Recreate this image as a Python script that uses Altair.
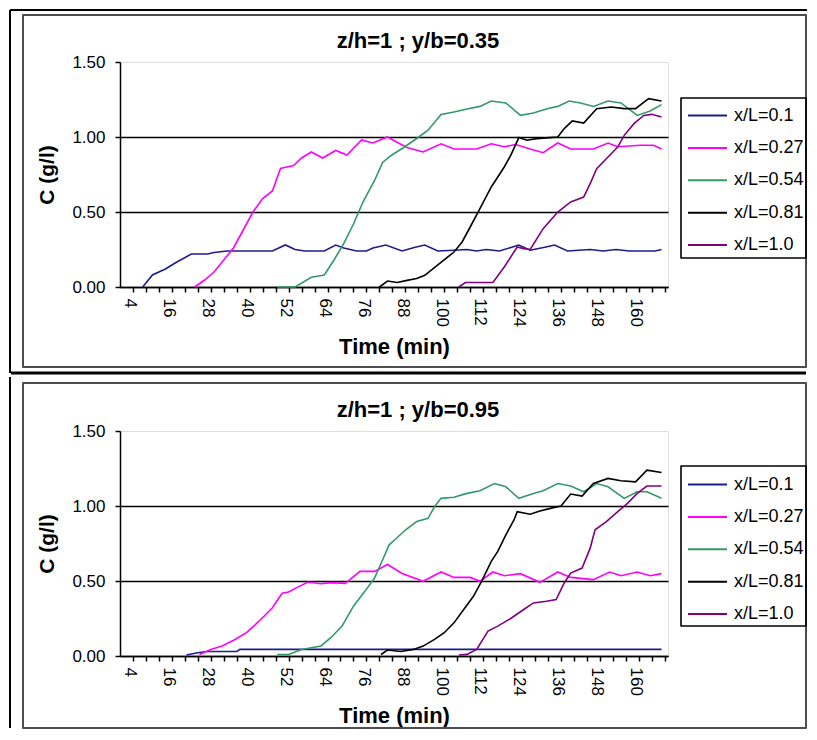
import altair as alt
import pandas as pd

FONT = "Liberation Sans"

series_names = ["x/L=0.1", "x/L=0.27", "x/L=0.54", "x/L=0.81", "x/L=1.0"]
series_colors = ["#1c1c8c", "#ff00ff", "#339966", "#000000", "#800080"]
panel_titles = ["z/h=1 ; y/b=0.35", "z/h=1 ; y/b=0.95"]
y_title = "C (g/l)"
x_title = "Time (min)"
y_ticks = [0, 0.5, 1.0, 1.5]
x_label_values = list(range(4, 161, 12))
x_tick_values = list(range(5, 170, 4))

# ---------------- top panel (y/b = 0.35) ----------------
top_t_01 = [8, 11, 15, 18, 23, 28, 30, 34, 48, 52, 55, 58, 64, 67.5, 70, 74, 77, 79, 83, 88, 92, 95, 99, 104,
            108, 111, 114, 118, 124, 127.5, 132, 135, 139, 146, 150, 154, 158, 166, 168]
top_c_01 = [0.0, 0.08, 0.12, 0.16, 0.22, 0.22, 0.23, 0.24, 0.24, 0.28, 0.25, 0.24, 0.24, 0.28, 0.26, 0.24, 0.24,
            0.26, 0.28, 0.24, 0.265, 0.28, 0.24, 0.245, 0.25, 0.24, 0.25, 0.24, 0.28, 0.245, 0.265, 0.28, 0.24,
            0.25, 0.24, 0.25, 0.24, 0.24, 0.25]
top_t_027 = [24, 27, 30, 33, 36, 39, 42, 45, 48, 50.5, 52.5, 54.5, 57, 60, 63.5, 67.5, 71, 75.5, 79, 83.5, 86,
             89.5, 94.5, 100, 104, 111, 115.5, 119.5, 123, 127.5, 131.5, 136, 140, 147, 151.5, 154.5, 161.5,
             165.5, 168]
top_c_027 = [0.0, 0.045, 0.10, 0.18, 0.26, 0.38, 0.50, 0.59, 0.64, 0.79, 0.80, 0.81, 0.86, 0.90, 0.86, 0.91,
             0.88, 0.98, 0.96, 1.0, 0.97, 0.93, 0.90, 0.955, 0.92, 0.92, 0.955, 0.935, 0.95, 0.92, 0.895, 0.96,
             0.92, 0.92, 0.96, 0.935, 0.945, 0.945, 0.92]
top_t_054 = [49.5, 55, 60, 64, 67, 70, 73, 76, 79.5, 82, 84.5, 88.5, 92.5, 96, 100, 104, 108, 112, 115.5, 120,
             124.5, 128.5, 133, 136, 139.5, 143, 147, 151.5, 155.5, 160.5, 164.5, 168]
top_c_054 = [0.0, 0.0, 0.065, 0.08, 0.18, 0.29, 0.42, 0.57, 0.71, 0.83, 0.875, 0.93, 0.99, 1.045, 1.15, 1.167,
             1.187, 1.204, 1.24, 1.227, 1.144, 1.16, 1.19, 1.204, 1.24, 1.227, 1.204, 1.24, 1.227, 1.144,
             1.173, 1.216]
top_t_081 = [81, 83.5, 86.5, 89.5, 92.5, 95, 99.5, 104, 106.5, 109, 112, 115.5, 119.5, 121.5, 124, 126.5, 129.5,
             133.5, 136, 138, 140.5, 144, 148, 152.5, 156.5, 160, 164, 168]
top_c_081 = [0.0, 0.04, 0.03, 0.044, 0.056, 0.078, 0.156, 0.233, 0.30, 0.40, 0.522, 0.667, 0.80, 0.878, 0.996,
             0.978, 0.989, 0.996, 1.0, 1.056, 1.107, 1.093, 1.189, 1.20, 1.189, 1.189, 1.256, 1.24]
top_t_10 = [105.5, 107.5, 116, 119.5, 123.5, 125.5, 127.5, 131.5, 136, 140, 144, 146, 148, 151.5, 154.5, 156.5,
            159.5, 162.5, 165, 168]
top_c_10 = [0.0, 0.03, 0.03, 0.133, 0.267, 0.256, 0.25, 0.389, 0.50, 0.567, 0.60, 0.689, 0.789, 0.867, 0.933,
            1.011, 1.089, 1.144, 1.151, 1.133]

# ---------------- bottom panel (y/b = 0.95) ----------------
bot_t_01 = [21.5, 25, 28, 37, 38, 60, 90, 120, 150, 168]
bot_c_01 = [0.007, 0.022, 0.03, 0.03, 0.044, 0.044, 0.044, 0.044, 0.044, 0.044]
bot_t_027 = [25.5, 29, 32.5, 36.5, 40, 42.5, 45.5, 48, 51, 53, 55.5, 59, 63, 66, 70.5, 75, 79.5, 83.5, 88, 94.5,
             100, 104, 109, 112, 116, 119.5, 124.5, 130.5, 136, 140, 147, 152, 155.5, 160.5, 164.5, 168]
bot_c_027 = [0.01, 0.044, 0.067, 0.11, 0.156, 0.204, 0.267, 0.322, 0.418, 0.427, 0.456, 0.493, 0.482, 0.489,
             0.484, 0.564, 0.564, 0.61, 0.55, 0.498, 0.56, 0.524, 0.524, 0.498, 0.56, 0.535, 0.549, 0.491, 0.56,
             0.524, 0.509, 0.56, 0.535, 0.56, 0.535, 0.549]
bot_t_054 = [49.5, 53, 57, 63, 66, 69.5, 73, 76.5, 79.5, 82, 84, 86, 89, 92.5, 96, 98, 100, 104, 108, 112, 116.5,
             120, 124, 128.5, 131.5, 136, 140, 144, 148, 151.5, 156.5, 160.5, 163.5, 168]
bot_c_054 = [0.01, 0.01, 0.044, 0.067, 0.122, 0.20, 0.332, 0.431, 0.52, 0.642, 0.741, 0.78, 0.84, 0.896, 0.918,
             0.996, 1.051, 1.058, 1.084, 1.102, 1.15, 1.128, 1.051, 1.084, 1.102, 1.15, 1.133, 1.095, 1.15,
             1.128, 1.051, 1.095, 1.095, 1.051]
bot_t_081 = [81.5, 83.5, 87.5, 91.5, 94.5, 98, 101, 104, 107, 110, 112.5, 115.5, 117.5, 120, 122.5, 123.5, 127.5,
             130.5, 135, 137, 140, 143.5, 147, 151.5, 155.5, 160, 163.5, 168]
bot_c_081 = [0.01, 0.04, 0.03, 0.044, 0.066, 0.111, 0.155, 0.221, 0.31, 0.398, 0.498, 0.631, 0.697, 0.808, 0.907,
             0.962, 0.945, 0.967, 0.991, 1.0, 1.08, 1.066, 1.15, 1.184, 1.168, 1.161, 1.239, 1.223]
bot_t_10 = [105.5, 108, 111, 114.5, 117.5, 121.5, 125.5, 128.5, 132.5, 135.5, 138, 140, 143.5, 146, 147.5, 151,
            154.5, 157.5, 160.5, 163.5, 168]
bot_c_10 = [0.007, 0.011, 0.044, 0.166, 0.199, 0.25, 0.31, 0.354, 0.365, 0.376, 0.487, 0.553, 0.586, 0.719,
            0.841, 0.896, 0.962, 1.018, 1.084, 1.133, 1.133]

top_series = [(top_t_01, top_c_01), (top_t_027, top_c_027), (top_t_054, top_c_054),
              (top_t_081, top_c_081), (top_t_10, top_c_10)]
bot_series = [(bot_t_01, bot_c_01), (bot_t_027, bot_c_027), (bot_t_054, bot_c_054),
              (bot_t_081, bot_c_081), (bot_t_10, bot_c_10)]

W, H = 548, 225
one_row = pd.DataFrame({"k": [0]})


def make_panel(series, title, top):
    rows = []
    for name, (ts, cs) in zip(series_names, series):
        for t, c in zip(ts, cs):
            rows.append({"t": t, "c": c, "s": name})
    df = pd.DataFrame(rows)

    is_label = "(datum.value - 4) % 12 == 0"
    x_axis = alt.Axis(
        values=sorted(x_tick_values + x_label_values),
        labelExpr=f"{is_label} ? datum.label : ''",
        tickOpacity={"condition": {"test": is_label, "value": 0}, "value": 1},
        labelAngle=90, labelOverlap=False, labelFontSize=17, labelFont=FONT,
        labelColor="black", tickSize=5, tickWidth=1.5, tickColor="black",
        labelPadding=6, grid=False, domainColor="black", domainWidth=1.5,
        title=x_title, titleFontSize=22, titleFont=FONT, titleFontWeight="bold",
        titleX=W / 2, titleY=66, titleAlign="center", titleBaseline="alphabetic",
        titleColor="black",
    )
    y_axis = alt.Axis(
        values=y_ticks, format=".2f", labelFontSize=17, labelFont=FONT, labelColor="black",
        tickSize=5, tickWidth=1.5, tickColor="black", labelPadding=10,
        grid=True, gridColor="black", gridWidth=1.5,
        gridOpacity={"condition": {"test": "datum.value > 1.4", "value": 0}, "value": 1},
        domainColor="black", domainWidth=1.5,
        title=y_title, titleFontSize=21, titleFont=FONT, titleFontWeight="bold",
        titleX=-67, titleY=H / 2, titleAngle=-90, titleAlign="center",
        titleBaseline="alphabetic", titleColor="black",
    )
    legend = alt.Legend(
        title=None, orient="none", legendX=567, legendY=33, padding=0,
        symbolType="stroke", symbolSize=1521, symbolStrokeWidth=2,
        labelFontSize=18, labelFont=FONT, labelColor="black", labelOffset=6,
        rowPadding=2.4,
    )
    lines = alt.Chart(df).mark_line(strokeWidth=1.6).encode(
        x=alt.X("t:Q", scale=alt.Scale(domain=[1, 170], nice=False, zero=False), axis=x_axis),
        y=alt.Y("c:Q", scale=alt.Scale(domain=[0, 1.5], nice=False), axis=y_axis),
        color=alt.Color("s:N", scale=alt.Scale(domain=series_names, range=series_colors),
                        sort=series_names, legend=legend),
    )

    frame = alt.Chart(one_row)
    if top:
        area_y, area_y2, lg_y, lg_y2 = -47, 305, 36, 196
    else:
        area_y, area_y2, lg_y, lg_y2 = -48, 297, 35, 195
    area_box = frame.mark_rect(fill="transparent", stroke="#4d4d4d", strokeWidth=2,
                               strokeJoin="round").encode(
        x=alt.value(-97), x2=alt.value(686), y=alt.value(area_y), y2=alt.value(area_y2))
    legend_box = frame.mark_rect(fill="transparent", stroke="black", strokeWidth=1.6,
                                 strokeJoin="round").encode(
        x=alt.value(561), x2=alt.value(686), y=alt.value(lg_y), y2=alt.value(lg_y2))
    title_txt = frame.mark_text(font=FONT, fontSize=22, fontWeight="bold", align="center",
                                baseline="alphabetic", color="black").encode(
        x=alt.value(298), y=alt.value(-14), text=alt.value(title))
    layers = [area_box, legend_box, title_txt]
    if top:
        layers += [
            frame.mark_rule(color="black", strokeWidth=2).encode(
                x=alt.value(-110), x2=alt.value(687), y=alt.value(-52)),
            frame.mark_rule(color="black", strokeWidth=2).encode(
                x=alt.value(-110), y=alt.value(-52), y2=alt.value(311)),
            frame.mark_rule(color="black", strokeWidth=3).encode(
                x=alt.value(-109), x2=alt.value(686), y=alt.value(311)),
        ]
    else:
        layers += [
            frame.mark_rule(color="black", strokeWidth=2).encode(
                x=alt.value(-110), y=alt.value(-54), y2=alt.value(297)),
        ]
    return alt.layer(*layers, lines).properties(width=W, height=H)


top_chart = make_panel(top_series, panel_titles[0], True)
bot_chart = make_panel(bot_series, panel_titles[1], False)

chart = (
    alt.vconcat(top_chart, bot_chart, spacing=0)
    .resolve_scale(color="independent")
    .resolve_legend(color="independent")
    .properties(padding={"left": 0, "top": 0, "right": 0, "bottom": 0},
                autosize=alt.AutoSizeParams(type="pad"), background="white")
    .configure_view(stroke="#8c8c8c", strokeWidth=1.5)
    .configure(font=FONT)
)

chart.save("out.html", embed_options={"renderer": "svg", "actions": False})
